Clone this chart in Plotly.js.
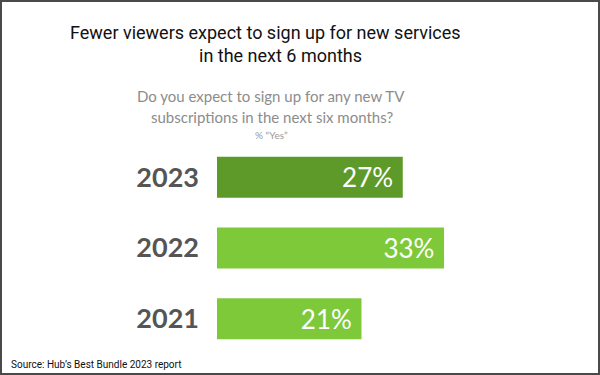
<!DOCTYPE html>
<html><head><meta charset="utf-8">
<script src="https://cdn.plot.ly/plotly-3.0.1.min.js"></script>
<style>html,body{margin:0;padding:0;background:#fff;}#wrap{position:relative;width:600px;height:375px;}#frame{position:absolute;left:0;top:0;width:600px;height:375px;box-sizing:border-box;border:2px solid #4a4a4a;pointer-events:none;}</style>
</head><body>
<div id="wrap"><div id="chart" style="width:600px;height:375px;"></div><div id="frame"></div></div>
<script>
const years = ['2021', '2022', '2023'];
const values = [21, 33, 27];
const barColors = ['#7ec93a', '#7ec93a', '#5e9a2a'];

const trace = {
  type: 'bar', orientation: 'h',
  y: years, x: values,
  marker: {color: barColors},
  text: values.map(v => v + '%\u00a0'),
  textposition: 'inside', insidetextanchor: 'end',
  textfont: {family: 'Lato, sans-serif', size: 26, color: '#ffffff'},
  hoverinfo: 'none', cliponaxis: false
};

const layout = {
  width: 600, height: 375,
  margin: {l: 217, r: 39, t: 142, b: 21},
  paper_bgcolor: '#ffffff', plot_bgcolor: '#ffffff',
  showlegend: false, bargap: 0.42,
  xaxis: {range: [0, 50], visible: false, fixedrange: true},
  yaxis: {type: 'category', showgrid: false, zeroline: false, showline: false,
          ticks: '', ticklabelstandoff: 17,
          tickfont: {family: 'Lato, sans-serif', size: 27, color: '#555555', weight: 'bold'}},
  annotations: [
    {text: 'Fewer viewers expect to sign up for new services', xref: 'paper', yref: 'paper', x: (265-217)/344, y: (354.4-32)/212.4, xanchor: 'center', yanchor: 'middle', showarrow: false, font: {family: 'Roboto, sans-serif', size: 18, color: '#111111'}},
    {text: 'in the next 6 months', xref: 'paper', yref: 'paper', x: (280-217)/344, y: (354.4-55)/212.4, xanchor: 'center', yanchor: 'middle', showarrow: false, font: {family: 'Roboto, sans-serif', size: 18, color: '#111111'}},
    {text: 'Do you expect to sign up for any new TV', xref: 'paper', yref: 'paper', x: (271-217)/344, y: (354.4-96)/212.4, xanchor: 'center', yanchor: 'middle', showarrow: false, font: {family: 'Lato, sans-serif', size: 15, color: '#8c8c8c'}},
    {text: 'subscriptions in the next six months?', xref: 'paper', yref: 'paper', x: (272-217)/344, y: (354.4-117)/212.4, xanchor: 'center', yanchor: 'middle', showarrow: false, font: {family: 'Lato, sans-serif', size: 15, color: '#8c8c8c'}},
    {text: '% “Yes”', xref: 'paper', yref: 'paper', x: (271-217)/344, y: (354.4-135)/212.4, xanchor: 'center', yanchor: 'middle', showarrow: false, font: {family: 'Lato, sans-serif', size: 10, color: '#999999'}},
    {text: 'Source: Hub’s Best Bundle 2023 report', xref: 'paper', yref: 'paper', x: (9-217)/344, y: (354.4-365)/212.4, xanchor: 'left', yanchor: 'middle', showarrow: false, font: {family: 'Roboto, sans-serif', size: 10, color: '#111111'}}
  ]
};

Plotly.newPlot('chart', [trace], layout, {staticPlot: true, displayModeBar: false});
</script>
</body></html>
